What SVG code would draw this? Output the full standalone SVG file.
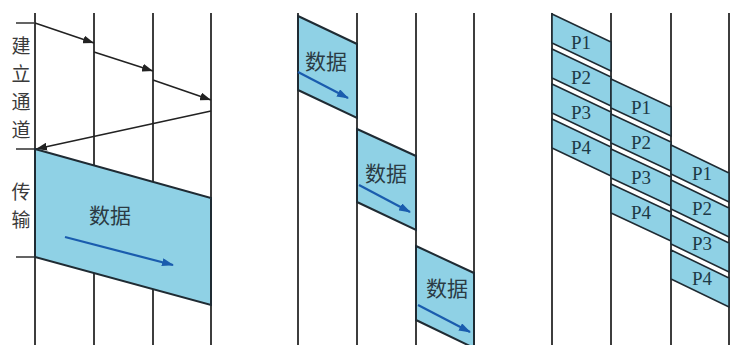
<svg xmlns="http://www.w3.org/2000/svg" width="730" height="345" viewBox="0 0 730 345">
<style>
.vl{stroke:#3d3d3d;stroke-width:2;fill:none}
.tk{stroke:#3d3d3d;stroke-width:1.6;fill:none}
.box{fill:#8fd1e5;stroke:#1f2b33;stroke-width:2;stroke-linejoin:miter}
.pk{fill:#8fd1e5;stroke:#1f2b33;stroke-width:1.6}
.ar{stroke:#222;stroke-width:1.6;fill:none}
.ba{stroke:#1a5cae;stroke-width:2.2;fill:none}
.cn{font-family:"Noto Sans CJK SC","Noto Sans CJK JP",sans-serif;fill:#3a3a3a;text-anchor:middle;font-size:19px}
.dt{font-family:"Noto Sans CJK SC","Noto Sans CJK JP",sans-serif;fill:#2b3b44;text-anchor:middle;font-size:21px}
.pl{font-family:"Liberation Serif",serif;fill:#1d3946;text-anchor:middle;font-size:19px}
</style>
<defs>
<marker id="ah" viewBox="0 0 11 8" refX="11" refY="4" markerWidth="11" markerHeight="8" markerUnits="userSpaceOnUse" orient="auto">
<path d="M0,0 L11,4 L0,8 Z" fill="#222"/>
</marker>
<marker id="bh" viewBox="0 0 12 8" refX="11" refY="4" markerWidth="12" markerHeight="8" markerUnits="userSpaceOnUse" orient="auto">
<path d="M0,0 L12,4 L0,8 Z" fill="#1a5cae"/>
</marker>
</defs>
<rect width="730" height="345" fill="#ffffff"/>

<g id="lifelines">
<line class="vl" x1="35" y1="13" x2="35" y2="345"/>
<line class="vl" x1="94" y1="13" x2="94" y2="345"/>
<line class="vl" x1="153" y1="13" x2="153" y2="345"/>
<line class="vl" x1="211" y1="13" x2="211" y2="345"/>
<line class="vl" x1="298" y1="13" x2="298" y2="345"/>
<line class="vl" x1="357" y1="13" x2="357" y2="345"/>
<line class="vl" x1="416" y1="13" x2="416" y2="345"/>
<line class="vl" x1="474" y1="13" x2="474" y2="345"/>
<line class="vl" x1="552" y1="13" x2="552" y2="345"/>
<line class="vl" x1="611" y1="13" x2="611" y2="345"/>
<line class="vl" x1="671" y1="13" x2="671" y2="345"/>
<line class="vl" x1="729" y1="13" x2="729" y2="345"/>
</g>

<g id="phase-labels">
<line class="tk" x1="16" y1="23" x2="35" y2="23"/>
<line class="tk" x1="16" y1="149" x2="35" y2="149"/>
<line class="tk" x1="16" y1="257" x2="35" y2="257"/>
<text class="cn" x="21" y="53">建</text>
<text class="cn" x="21" y="81">立</text>
<text class="cn" x="21" y="109">通</text>
<text class="cn" x="21" y="137">道</text>
<text class="cn" x="21" y="199">传</text>
<text class="cn" x="21" y="227">输</text>
</g>

<g id="connectors">
<line class="ar" x1="35" y1="23" x2="94" y2="43" marker-end="url(#ah)"/>
<line class="ar" x1="94" y1="52" x2="153" y2="71" marker-end="url(#ah)"/>
<line class="ar" x1="153" y1="80" x2="211" y2="100" marker-end="url(#ah)"/>
<line class="ar" x1="211" y1="111" x2="36" y2="149" marker-end="url(#ah)"/>
</g>

<g id="circuit-data">
<polygon class="box" points="35,149 211,198 211,305 35,257"/>
<text class="dt" x="110" y="223">数据</text>
<line class="ba" x1="65" y1="237" x2="173" y2="265" marker-end="url(#bh)"/>
</g>

<g id="message-1">
<polygon class="box" points="298,16 357,44 357,118 298,90"/>
<text class="dt" x="326" y="69">数据</text>
<line class="ba" x1="298" y1="72" x2="348" y2="98" marker-end="url(#bh)"/>
</g>
<g id="message-2">
<polygon class="box" points="357,129 416,156 416,230 357,202"/>
<text class="dt" x="386" y="181">数据</text>
<line class="ba" x1="359" y1="185" x2="410" y2="212" marker-end="url(#bh)"/>
</g>
<g id="message-3">
<polygon class="box" points="416,246 474,273 474,348 416,320"/>
<text class="dt" x="447" y="296">数据</text>
<line class="ba" x1="418" y1="305" x2="470" y2="332" marker-end="url(#bh)"/>
</g>

<g id="packets-hop1">
<polygon class="pk" points="552,14 611,42 611,71 552,43"/>
<polygon class="pk" points="552,49 611,77 611,106 552,78"/>
<polygon class="pk" points="552,84 611,112 611,141 552,113"/>
<polygon class="pk" points="552,119 611,147 611,176 552,148"/>
<text class="pl" x="581" y="49">P1</text>
<text class="pl" x="581" y="84">P2</text>
<text class="pl" x="581" y="119">P3</text>
<text class="pl" x="581" y="154">P4</text>
</g>
<g id="packets-hop2">
<polygon class="pk" points="611,79 671,107 671,136 611,108"/>
<polygon class="pk" points="611,114 671,142 671,171 611,143"/>
<polygon class="pk" points="611,149 671,177 671,206 611,178"/>
<polygon class="pk" points="611,184 671,212 671,241 611,213"/>
<text class="pl" x="641" y="114">P1</text>
<text class="pl" x="641" y="149">P2</text>
<text class="pl" x="641" y="184">P3</text>
<text class="pl" x="641" y="219">P4</text>
</g>
<g id="packets-hop3">
<polygon class="pk" points="671,145 729,173 729,202 671,174"/>
<polygon class="pk" points="671,180 729,208 729,237 671,209"/>
<polygon class="pk" points="671,215 729,243 729,272 671,244"/>
<polygon class="pk" points="671,250 729,278 729,307 671,279"/>
<text class="pl" x="702" y="180">P1</text>
<text class="pl" x="702" y="215">P2</text>
<text class="pl" x="702" y="250">P3</text>
<text class="pl" x="702" y="285">P4</text>
</g>
</svg>
